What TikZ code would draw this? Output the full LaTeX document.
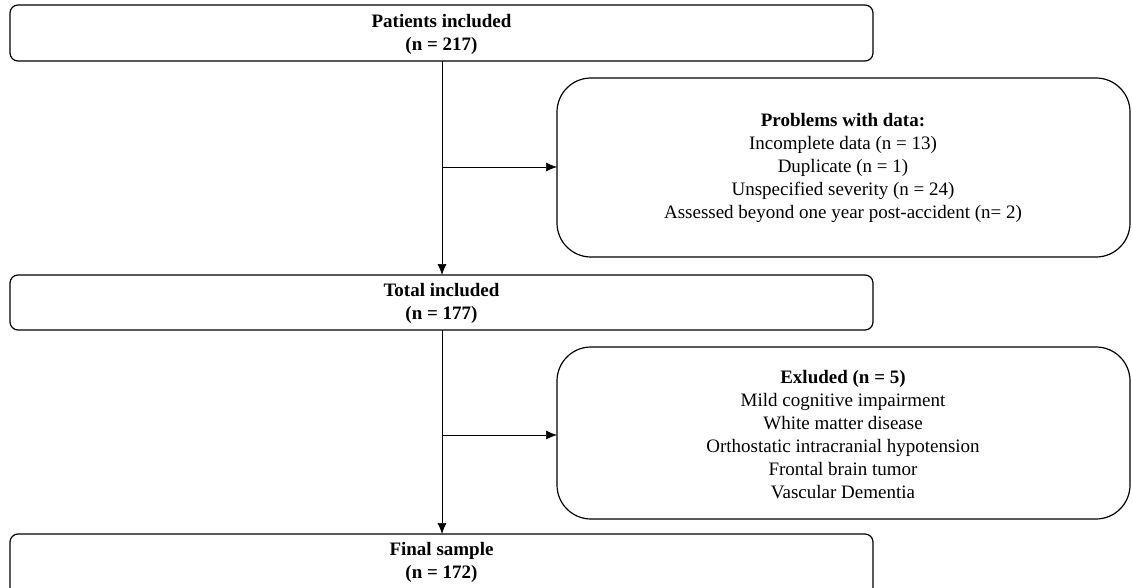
\documentclass[tikz,border=0pt]{standalone}
\usepackage{fontspec}
\setmainfont{Liberation Serif}
\usetikzlibrary{arrows.meta}
\begin{document}
\begin{tikzpicture}[x=1pt,y=-1pt,
  mainbox/.style={draw, line width=1.2pt, rounded corners=8pt},
  sidebox/.style={draw, line width=1.2pt, rounded corners=34pt},
  txt/.style={align=center, font=\fontsize{19}{23}\selectfont, inner sep=0pt},
  conn/.style={line width=0.7pt, -{Latex[length=11pt,width=9pt]}}]
\useasboundingbox (0,0) rectangle (1132,588);
% boxes
\draw[mainbox] (10,5) rectangle (873,61);
\node[txt] (p) at (441.5,34) {\textbf{Patients included}\\\textbf{(n = 217)}};
\coordinate (pb) at (442,61);

\draw[sidebox] (557,78) rectangle (1130,257);
\node[txt] (prob) at (843,168) {\textbf{Problems with data:}\\Incomplete data (n = 13)\\Duplicate (n = 1)\\Unspecified severity (n = 24)\\Assessed beyond one year post-accident (n= 2)};
\coordinate (probl) at (557,167);

\draw[mainbox] (10,275) rectangle (873,330);
\node[txt] (tot) at (441.5,303.5) {\textbf{Total included}\\\textbf{(n = 177)}};
\coordinate (tt) at (442,275);
\coordinate (tb) at (442,330);

\draw[sidebox] (557,347) rectangle (1130,519);
\node[txt] (ex) at (843,435) {\textbf{Exluded (n = 5)}\\Mild cognitive impairment\\White matter disease\\Orthostatic intracranial hypotension\\Frontal brain tumor\\Vascular Dementia};
\coordinate (exl) at (557,435);

\draw[mainbox] (10,534) rectangle (873,600);
\node[txt] (fin) at (441.5,562) {\textbf{Final sample}\\\textbf{(n = 172)}};
\coordinate (ft) at (442,534);

% connectors
\coordinate (j1) at (442,167);
\coordinate (j2) at (442,435);
\draw[conn] (pb) -- (tt);
\draw[conn] (j1) -- (probl);
\draw[conn] (tb) -- (ft);
\draw[conn] (j2) -- (exl);
\end{tikzpicture}
\end{document}
